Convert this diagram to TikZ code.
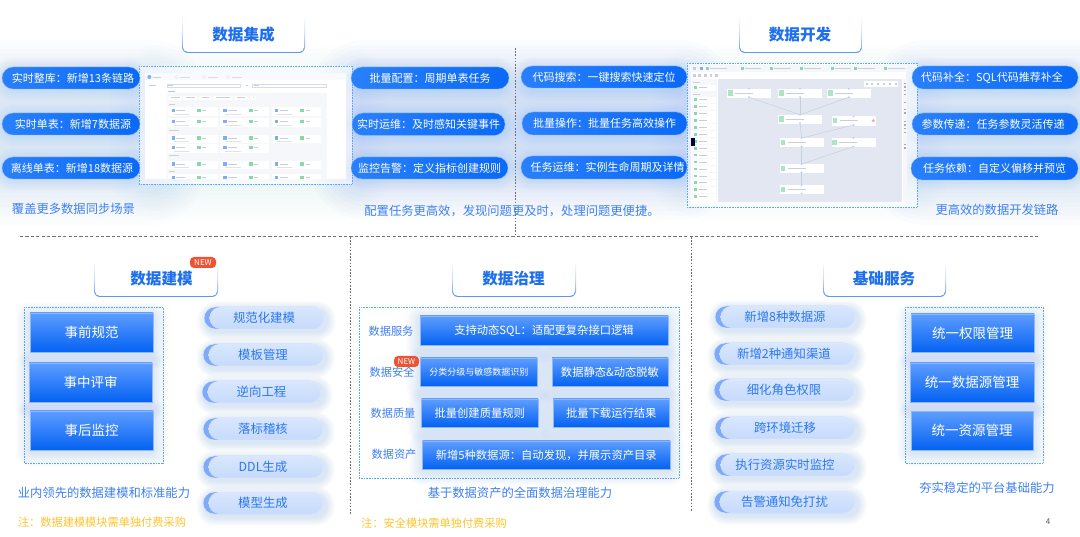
\documentclass[tikz,border=0pt]{standalone}
\usepackage{fontspec}
\setmainfont{Noto Sans CJK SC}
\definecolor{glowblue}{HTML}{5B93F5}
\definecolor{titleblue}{HTML}{1D6FEF}
\definecolor{capblue}{HTML}{3E80F2}
\definecolor{notegold}{HTML}{FFC42E}
\definecolor{frameblue}{HTML}{55AAFF}
\definecolor{pilldark}{HTML}{0A69F6}
\definecolor{pilllight}{HTML}{2A80FB}
\definecolor{boxtop}{HTML}{5E9DFF}
\definecolor{boxbot}{HTML}{0462F2}
\definecolor{boxedge}{HTML}{8BB8FF}
\definecolor{softtop}{HTML}{D9E7FE}
\definecolor{softbot}{HTML}{C6DAFC}
\definecolor{crescent}{HTML}{7FAAF8}
\definecolor{softtext}{HTML}{2B78EE}
\definecolor{softedge}{HTML}{E4EEFF}
\definecolor{newred}{HTML}{EE5334}
\definecolor{dashgray}{HTML}{707070}
\definecolor{canvasgray}{HTML}{E2E7F1}
\definecolor{panelgray}{HTML}{F5F7FB}
\definecolor{shotblue}{HTML}{7FADF7}
\definecolor{shotgreen}{HTML}{8AD8A6}
\definecolor{shotline}{HTML}{C8CEDA}
\tikzset{
  fsz/.code={\fontsize{#1}{#1}\selectfont},
  bluepill/.style={rounded corners=11pt,left color=pilllight,right color=pilldark,draw=boxedge,line width=0.3pt,
    text=white,inner sep=0pt,outer sep=0pt,fsz=11},
  softpill/.style={rounded corners=11pt,fill=crescent,draw=softedge,line width=0.4pt,text=softtext,inner sep=0pt,outer sep=0pt,fsz=12.4,
    path picture={\shade[top color=softtop,bottom color=softbot,rounded corners=11pt]
      ([xshift=5.5pt]path picture bounding box.north west) rectangle
      ([xshift=12pt]path picture bounding box.south east);}},
  bluebox/.style={top color=boxtop,bottom color=boxbot,draw=boxedge,line width=0.4pt,text=white,
    inner sep=0pt,outer sep=0pt},
  dotframe/.style={draw=frameblue,line width=0.7pt,dash pattern=on 0.8pt off 0.8pt},
  capt/.style={text=capblue,inner sep=0pt,fsz=12.3},
  note/.style={text=notegold,inner sep=0pt,fsz=11.2},
  rowlabel/.style={text=capblue,inner sep=0pt,fsz=11.2},
  titletext/.style={text=titleblue,font=\bfseries,inner sep=0pt,fsz=15.6},
  newtag/.style={fill=newred,text=white,inner sep=0pt,outer sep=0pt,rounded corners=4pt,fsz=8},
  hdash/.style={draw=dashgray,line width=0.8pt,dash pattern=on 3.2pt off 2.2pt},
  vdash/.style={draw=dashgray,line width=0.8pt,dash pattern=on 1.6pt off 1.6pt},
  flowbox/.style={fill=white,draw=white,minimum width=43pt,minimum height=8.5pt,inner sep=0pt,outer sep=0pt},
  flowedge/.style={draw=shotline,line width=0.5pt},
}
% x1 y1 x2 y2 spread opacity
\newcommand\glowrect[6]{%
  \foreach \gi in {1,...,12}{%
    \pgfmathsetmacro\gs{#5*\gi/12}%
    \pgfmathsetmacro\gr{max(\gs,6)}%
    \fill[glowblue,fill opacity=#6,rounded corners=\gr pt] (#1-\gs,#2-\gs) rectangle (#3+\gs,#4+\gs);
  }}
\newcommand\glowpill[6]{%
  \foreach \gi in {1,...,12}{%
    \pgfmathsetmacro\gs{#5*\gi/12}%
    \pgfmathsetmacro\gr{10+\gs}%
    \fill[glowblue,fill opacity=#6,rounded corners=\gr pt] (#1-\gs,#2-\gs) rectangle (#3+\gs,#4+\gs);
  }}
% name x1 y1 x2 y2 text
\newcommand\bpill[6]{%
  \node[bluepill,minimum width={(#4-#2)*1pt},minimum height={(#5-#3)*1pt}] (#1) at ({(#2+#4)/2},{(#3+#5)/2}) {#6};}
\newcommand\spill[6]{%
  \glowpill{#2+2}{#3+3}{#4+3}{#5+3}{9}{0.016}%
  \node[softpill,minimum width={(#4-#2)*1pt},minimum height={(#5-#3)*1pt}] (#1) at ({(#2+#4)/2},{(#3+#5)/2}) {#6};}
% name x1 y1 x2 y2 size text
\newcommand\bbox[7]{%
  \glowrect{#2}{#3+3}{#4}{#5+3}{14}{0.017}%
  \node[bluebox,fsz=#6,minimum width={(#4-#2)*1pt},minimum height={(#5-#3)*1pt}] (#1) at ({(#2+#4)/2},{(#3+#5)/2}) {#7};}
% name x1 y1 x2 y2 textx texty text
\newcommand\titlebox[8]{%
  \shade[top color=white,bottom color=titleblue!75,middle color=titleblue!25,rounded corners=6pt] (#2,#3) -- (#2,#5) -- (#4,#5) -- (#4,#3) -- cycle;
  \fill[white,rounded corners=5pt] (#2+1,#3-1) -- (#2+1,#5-1) -- (#4-1,#5-1) -- (#4-1,#3-1) -- cycle;
  \node[titletext] (#1) at (#6,#7) {#8};}
\begin{document}
\begin{tikzpicture}[x=1pt,y=-1pt]
\useasboundingbox (0,0) rectangle (1080,537);
\fill[white] (0,0) rectangle (1080,537);

% --- big top washes
\glowrect{-10}{95}{150}{170}{55}{0.017}
\glowrect{365}{95}{680}{165}{55}{0.024}
\glowrect{925}{95}{1090}{170}{55}{0.020}
\glowrect{160}{95}{340}{170}{50}{0.008}
\glowrect{700}{95}{900}{170}{50}{0.008}
\foreach \yy in {67,113,157}{
  \glowpill{5}{\yy+2}{137}{\yy+22}{12}{0.012}
  \glowpill{354}{\yy+2}{505}{\yy+22}{12}{0.012}
  \glowpill{524}{\yy+2}{684}{\yy+22}{12}{0.012}
  \glowpill{915}{\yy+2}{1075}{\yy+22}{12}{0.012}
}

% --- screenshot 1
\fill[white,fill opacity=0.55] (139,66) rectangle (352,184);
\fill[white] (145,73) rectangle (346,179);
\begin{scope}[shift={(140,65)},x=0.3333pt,y=-0.3333pt]
  \fill[panelgray!60] (15,25) rectangle (618,45);
  \fill[shotblue] (28,36) circle (6);
  \fill[shotline] (40,35) rectangle (62,38);
  \foreach \hx in {95,178,250}{\draw[shotline!60,line width=0.3pt] (\hx+15,36) circle (5);\fill[shotline!70] (\hx+25,35) rectangle (\hx+55,38);}
  \fill[shotline] (27,60) rectangle (47,63);
  \draw[shotline!70,line width=0.3pt] (82,57) rectangle (300,67);
  \draw[shotline!70,line width=0.3pt] (335,57) rectangle (560,67);
  \fill[shotline] (85,61) rectangle (100,63);
  \fill[shotline] (342,61) rectangle (358,63);
  \fill[shotline] (317,61) rectangle (323,63);
  \fill[shotblue!70] (85,77) rectangle (105,79);
  \fill[panelgray] (82,85) rectangle (560,342);
  \foreach \tx/\tw in {85/40,130/40,178/34,220/55,282/38,330/18}{
    \fill[white] (\tx,92) rectangle (\tx+\tw,104);
    \fill[shotline] (\tx+8,97) rectangle (\tx+\tw-6,99);
  }
  \foreach \sy/\sw in {117/18,195/30,272/28,318/18}{\fill[shotline] (88,\sy-1) rectangle (88+\sw,\sy+1);}
  \foreach \cy/\ncols in {140/3,172/3,222/3,250/2,300/3,340/3}{
    \foreach \cx [count=\ci] in {85,240,395}{
      \ifnum\ci>\ncols\else
      \begin{scope}
        \clip (0,0) rectangle (620,342);
        \fill[white] (\cx,\cy-13) rectangle (\cx+148,\cy+13);
        \fill[shotblue] (\cx+10,\cy-8) rectangle (\cx+20,\cy+2);
        \fill[shotline] (\cx+24,\cy-4) rectangle (\cx+50,\cy-2);
        \fill[shotgreen] (\cx+86,\cy-8) rectangle (\cx+98,\cy+2);
        \fill[shotline] (\cx+102,\cy-4) rectangle (\cx+114,\cy-2);
        \fill[shotline!60] (\cx+16,\cy+7) rectangle (\cx+62,\cy+9);
      \end{scope}
      \fi
    }
  }
\end{scope}
\draw[dotframe] (139,66) rectangle (352,184);

% --- screenshot 2
\fill[white,fill opacity=0.6] (687,63) rectangle (917,207);
\fill[white] (691,65) rectangle (906,204);
\begin{scope}[shift={(680,50)},x=0.3333pt,y=-0.3333pt]
  \fill[panelgray] (30,45) rectangle (682,67);
  \fill[shotline] (40,52) rectangle (48,60);
  \fill[shotblue] (60,52) rectangle (68,60);
  \foreach \tx in {78,182,270,360,452,522,612}{
    \fill[shotgreen] (\tx,52) rectangle (\tx+9,60);
    \fill[shotline] (\tx+13,55) rectangle (\tx+62,58);
  }
  \foreach \tx in {42,58,76,92,108}{\fill[shotline] (\tx-3,72) rectangle (\tx+5,80);}
  \fill[panelgray] (35,88) rectangle (112,450);
  \fill[shotline] (40,97) rectangle (60,100);
  \fill[shotline] (40,132) rectangle (60,135);
  \foreach \iy in {113,149,170,191,211,232,253,274,295,315,336,357,378,398,419,440}{
    \fill[white] (40,\iy-9) rectangle (108,\iy+9);
    \fill[shotgreen] (43,\iy-4) rectangle (51,\iy+4);
    \fill[shotline] (56,\iy-1) rectangle (80,\iy+1.5);
  }
  \fill[canvasgray] (115,88) rectangle (665,455);
  \fill[white] (552,92) rectangle (655,110);
  \foreach \tx in {560,577,595,612,630,647}{\fill[shotline] (\tx-3,98) rectangle (\tx+3,104);}
  \fill[panelgray] (668,88) rectangle (680,455);
  \foreach \ty in {100,111,122,133,157,178,189,214,225,236,247,283,294}{\fill[dashgray!60] (671,\ty-2) rectangle (677,\ty+2);}
  \fill[black!75!blue] (32,265) rectangle (44,287);
  % flow nodes
  \foreach \nn/\nx/\ny in {fa/207/129,fb/360/129,fc/507/129,fd/360/207,fe/521/212,ff/365/277,fg/520/277,fh/365/355,fi/365/418}{
    \node[flowbox] (\nn) at (\nx,\ny) {};
    \fill[shotgreen!70] (\nx-63,\ny-8) rectangle (\nx-49,\ny+8);
    \fill[shotline] (\nx-42,\ny-1) rectangle (\nx+12,\ny+1.5);
  }
  \draw[flowedge] (fa.south) -- (fd.north);
  \draw[flowedge] (fb.south) -- (fd.north);
  \draw[flowedge] (fc.south) -- (fd.north);
  \draw[flowedge] (fd.south) -- (ff.north);
  \draw[flowedge] (fe.south) -- (ff.north);
  \draw[flowedge] (ff.south) -- (fh.north);
  \draw[flowedge] (fg.south) -- (fh.north);
  \draw[flowedge] (fh.south) -- (fi.north);
  \fill[newred!50] (580,212) circle (5);
  \foreach \nn in {fa,fb,fc,fd,fe,ff,fg,fh,fi}{
    \fill[shotblue!60] (\nn.north) circle (3);
    \fill[shotblue!60] (\nn.south) circle (3);
  }
\end{scope}
\draw[dotframe] (687,63) rectangle (917,207);

% --- dashed separators
\draw[hdash] (20,236.5) -- (1040,236.5);
\draw[vdash] (515,48) -- (515,236);
\draw[vdash] (350,237) -- (350,514);
\draw[vdash] (691,237) -- (691,512);

% --- top titles
\titlebox{t1}{182}{15}{305}{53}{243.5}{34.5}{数据集成}
\titlebox{t2}{739}{15}{862}{53}{800}{34.5}{数据开发}

% --- top pills
\bpill{a1}{2}{67}{140}{89}{\hspace*{4pt}实时整库：新增13条链路}
\bpill{a2}{2}{113}{140}{135}{\hspace*{4pt}实时单表：新增7数据源}
\bpill{a3}{2}{157}{140}{179}{\hspace*{2pt}离线单表：新增18数据源}
\bpill{b1}{351}{67}{509}{89}{批量配置：周期单表任务}
\bpill{b2}{352}{113}{505}{135.5}{实时运维：及时感知关键事件}
\bpill{b3}{351}{157}{508}{179}{监控告警：定义指标创建规则}
\bpill{c1}{521}{66}{687}{88}{代码搜索：一键搜索快速定位}
\bpill{c2}{522}{112}{687}{135}{批量操作：批量任务高效操作}
\bpill{c3}{521}{156}{687}{179}{\hspace*{7pt}任务运维：实例生命周期及详情}
\bpill{d1}{912}{66}{1078}{89}{代码补全：SQL代码推荐补全\hspace*{6pt}}
\bpill{d2}{912}{113}{1078}{135}{参数传递：任务参数灵活传递\hspace*{4pt}}
\bpill{d3}{911}{157}{1078}{180}{任务依赖：自定义偏移并预览}

\node[capt] (cap1) at (73.5,209) {覆盖更多数据同步场景};
\node[capt] (cap2) at (512,211) {配置任务更高效，发现问题更及时，处理问题更便捷。};
\node[capt] (cap3) at (997,210) {更高效的数据开发链路};

% --- bottom titles
\titlebox{t3}{94}{260}{218}{297}{161.5}{278.5}{数据建模}
\titlebox{t4}{452}{260}{576}{297}{513.5}{278.5}{数据治理}
\titlebox{t5}{823}{260}{946}{297}{884}{278.5}{基础服务}
\node[newtag,minimum width=26pt,minimum height=11pt] (new1) at (203,262.5) {NEW};

% --- modelling
\draw[dotframe] (24,307) rectangle (163,463);
\bbox{m1}{30}{313}{153}{352}{13.5}{事前规范}
\bbox{m2}{29}{363}{152}{402}{13.5}{事中评审}
\bbox{m3}{30}{411}{153}{450}{13.5}{事后监控}
\spill{p1}{204}{307}{324}{329}{规范化建模}
\spill{p2}{203}{344}{323}{366}{模板管理}
\spill{p3}{202}{381}{321}{403}{逆向工程}
\spill{p4}{203}{418}{323}{440}{落标稽核}
\spill{p5}{203}{456}{323}{478}{DDL生成}
\spill{p6}{203}{492}{323}{514}{模型生成}
\node[capt] (cap4) at (104,493) {业内领先的数据建模和标准能力};
\node[note] (note1) at (102,522) {注：数据建模模块需单独付费采购};

% --- governance
\draw[dotframe] (359,307) rectangle (679,478);
\bbox{g1}{420}{316}{668}{345}{11.3}{支持动态SQL：适配更复杂接口逻辑}
\bbox{g2}{420.5}{358}{537}{386}{9}{分类分级与敏感数据识别}
\bbox{g3}{552}{358}{668}{386}{11.3}{数据静态\&动态脱敏}
\bbox{g4}{421.5}{399}{538}{427}{11.3}{批量创建质量规则}
\bbox{g5}{553}{399}{669.5}{427}{11.3}{批量下载运行结果}
\bbox{g6}{422.5}{441}{670}{469}{11.3}{新增5种数据源：自动发现，并展示资产目录}
\node[rowlabel] (l1) at (391,331) {数据服务};
\node[rowlabel] (l2) at (392,372) {数据安全};
\node[rowlabel] (l3) at (393,413) {数据质量};
\node[rowlabel] (l4) at (394,454) {数据资产};
\node[newtag,minimum width=25pt,minimum height=11pt] (new2) at (406.5,361.5) {NEW};
\node[capt] (cap5) at (520,493) {基于数据资产的全面数据治理能力};
\node[note] (note2) at (434,523) {注：安全模块需单独付费采购};

% --- base services
\spill{s1}{715}{306}{855}{328}{新增8种数据源}
\spill{s2}{714}{343}{854}{365}{新增2种通知渠道}
\spill{s3}{714}{379}{854}{401}{细化角色权限}
\spill{s4}{715}{417}{855}{439}{跨环境迁移}
\spill{s5}{715}{454}{855}{476}{执行资源实时监控}
\spill{s6}{714}{491}{855}{513}{告警通知免打扰}
\draw[dotframe] (905,307) rectangle (1043,463);
\bbox{r1}{911}{314}{1034}{352.5}{13.5}{统一权限管理}
\bbox{r2}{910}{363}{1034}{402}{13.5}{统一数据源管理}
\bbox{r3}{911}{411.5}{1033}{450}{13.5}{统一资源管理}
\node[capt] (cap6) at (987,488) {夯实稳定的平台基础能力};
\node[text=black!65,inner sep=0pt,fsz=8] (page) at (1048,522) {4};
\end{tikzpicture}
\end{document}
